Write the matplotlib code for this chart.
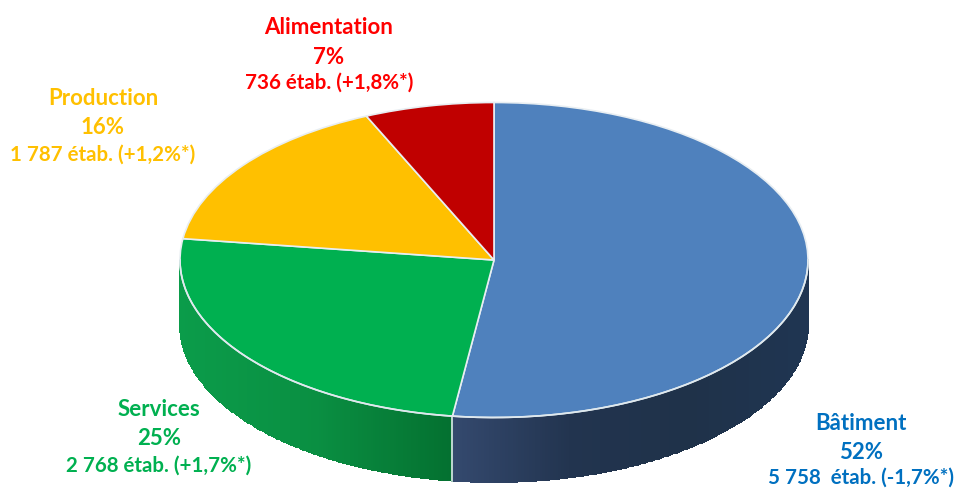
import numpy as np
import matplotlib
matplotlib.use("Agg")
import matplotlib.pyplot as plt
from matplotlib.colors import to_rgb

# Données du graphique
categories = ["Bâtiment", "Services", "Production", "Alimentation"]
etablissements = [5758, 2768, 1787, 736]
parts = ["52%", "25%", "16%", "7%"]
details = ["5 758  étab. (-1,7%*)", "2 768 étab. (+1,7%*)", "1 787 étab. (+1,2%*)", "736 étab. (+1,8%*)"]

# Couleurs
couleurs = ["#4f81bd", "#00b050", "#ffc000", "#c00000"]
couleurs_texte = ["#0070c0", "#00b050", "#ffc000", "#ff0000"]
# bord gauche -> bord droit de la tranche visible
tranche = {0: ["#34496e", "#22344f", "#1f3249", "#1f3552"], 1: ["#0b9c4a", "#0a8f42", "#047030"]}

W, H = 956, 489
cx, cy, rx, ry = 494, 261, 314, 157.5
epaisseur = 64.5 / ry

fig = plt.figure(figsize=(W / 100, H / 100), dpi=100)
ax = fig.add_axes([0, 0, 1, 1])

wedges, _ = ax.pie(etablissements, startangle=90, counterclock=False, radius=1,
                   colors=couleurs, wedgeprops={"edgecolor": "#e8eef2", "linewidth": 1.2, "zorder": 3})
ax.set_aspect("auto")
ax.set_xlim(-cx / rx, (W - cx) / rx)
ax.set_ylim(-(H - cy) / ry, cy / ry)

# Angles des parts (sens horaire depuis le haut)
cumul = np.cumsum([0] + etablissements) / sum(etablissements)
angles = 90 - 360 * cumul

# Tranche du camembert : seule la moitié avant est visible
for i in tranche:
    debut = np.radians(max(angles[i + 1], -180))
    fin = np.radians(angles[i])
    t = np.linspace(debut, min(fin, 0), 200)
    x = np.cos(t)
    y = np.sin(t)
    X = np.vstack([x, x])
    Y = np.vstack([y, y - epaisseur])
    pos = (x[:-1] - x.min()) / (x.max() - x.min())
    cols = np.array([to_rgb(c) for c in tranche[i]])
    grad = np.column_stack([np.interp(pos, np.linspace(0, 1, len(cols)), cols[:, k]) for k in range(3)])
    ax.pcolormesh(X, Y, grad[np.newaxis, :, :], shading="flat", zorder=1, edgecolor="face", linewidth=0.3)

# Filet clair sur l'arête avant et à la séparation des deux tranches
t = np.radians(np.linspace(-180, 0, 400))
ax.plot(np.cos(t), np.sin(t), color="#dfe9ee", lw=1.2, zorder=4)
sep = np.radians(angles[1])
ax.plot([np.cos(sep)] * 2, [np.sin(sep), np.sin(sep) - epaisseur], color="#dfe9ee", lw=1.2, zorder=4)

# Étiquettes
pos_labels = [(861, 424, 453, 478), (159, 410, 439, 466), (103, 99, 128, 155), (329, 28, 58, 83)]
for i in range(len(categories)):
    x0, y1, y2, y3 = pos_labels[i]
    for txt, yp, fs in zip([categories[i], parts[i], details[i]], [y1, y2, y3], [16, 16, 14.8]):
        fig.text(x0 / W, 1 - yp / H, txt, color=couleurs_texte[i], family="Lato", weight="bold",
                 fontsize=fs, ha="center", va="center")

fig.savefig("out.png", dpi=100)
